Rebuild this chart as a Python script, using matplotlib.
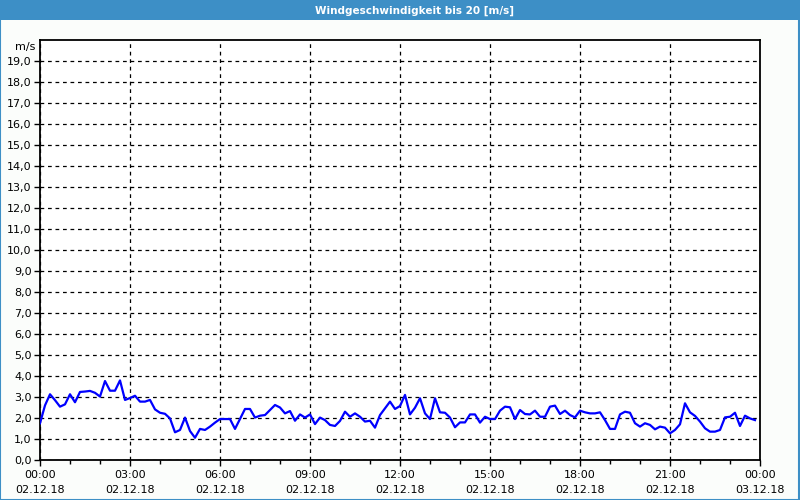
import numpy as np
import matplotlib
matplotlib.use('Agg')
import matplotlib.pyplot as plt
from matplotlib.patches import Rectangle
from matplotlib.ticker import MultipleLocator, FixedLocator

# Windgeschwindigkeit, alle 10 Minuten ab 02.12.18 00:00 (m/s)
wind = [1.75, 2.6, 3.13, 2.85, 2.54, 2.65, 3.13, 2.75, 3.24, 3.26,
        3.29, 3.2, 3.02, 3.76, 3.3, 3.3, 3.79, 2.86, 2.95, 3.06,
        2.78, 2.78, 2.86, 2.41, 2.25, 2.2, 1.98, 1.32, 1.43, 2.02,
        1.38, 1.06, 1.48, 1.43, 1.59, 1.78, 1.95, 1.95, 1.95, 1.48,
        1.95, 2.43, 2.43, 2.02, 2.11, 2.14, 2.38, 2.62, 2.5, 2.22,
        2.33, 1.87, 2.17, 2.02, 2.17, 1.71, 2.02, 1.9, 1.67, 1.62,
        1.86, 2.3, 2.06, 2.22, 2.06, 1.83, 1.87, 1.54, 2.14, 2.46,
        2.78, 2.43, 2.57, 3.1, 2.17, 2.49, 2.94, 2.22, 1.95, 2.94,
        2.27, 2.25, 2.02, 1.56, 1.79, 1.79, 2.17, 2.17, 1.78, 2.06,
        1.95, 1.95, 2.35, 2.54, 2.51, 1.95, 2.38, 2.19, 2.17, 2.35,
        2.06, 2.06, 2.54, 2.59, 2.19, 2.35, 2.14, 2.03, 2.35, 2.27,
        2.22, 2.22, 2.27, 1.9, 1.48, 1.48, 2.17, 2.3, 2.25, 1.75,
        1.59, 1.75, 1.67, 1.46, 1.59, 1.54, 1.27, 1.43, 1.7, 2.7,
        2.27, 2.1, 1.83, 1.51, 1.35, 1.35, 1.43, 2.03, 2.06, 2.25,
        1.62, 2.11, 1.98, 1.9]
stunden = np.arange(len(wind)) * 10 / 60.0  # Zeit in Stunden

zeit_labels = ['00:00', '03:00', '06:00', '09:00', '12:00', '15:00', '18:00', '21:00', '00:00']
datum_labels = ['02.12.18'] * 8 + ['03.12.18']
y_labels = ['%d,0' % i for i in range(20)]

titel = 'Windgeschwindigkeit bis 20 [m/s]'
blau = '#3d8fc6'

fig = plt.figure(figsize=(8, 5), dpi=100)
fig.patch.set_facecolor('#fbfdfb')

# Titelleiste
fig.patches.append(Rectangle((0, 0.96), 1, 0.04, transform=fig.transFigure,
                             facecolor=blau, edgecolor='none', zorder=0))
fig.patches.append(Rectangle((0.0006, 0.001), 0.9982, 0.998, transform=fig.transFigure,
                             facecolor='none', edgecolor=blau, linewidth=1.5, zorder=1))
fig.text(0.518, 0.979, titel, color='white', fontsize=7.5, fontweight='bold',
         ha='center', va='center')

ax = fig.add_axes([0.05, 0.08, 0.90, 0.84])
ax.set_facecolor('white')
ax.plot(stunden, wind, color='#0000ff', linewidth=1.6, zorder=3)

ax.set_xlim(0, 24)
ax.set_ylim(0, 20)

ax.xaxis.set_major_locator(FixedLocator(np.arange(0, 25, 3)))
ax.xaxis.set_minor_locator(MultipleLocator(1))
ax.set_xticklabels([z + '\n' + d for z, d in zip(zeit_labels, datum_labels)],
                   fontsize=8, linespacing=1.6)
ax.set_yticks(range(20))
ax.set_yticklabels(y_labels, fontsize=8)

ax.tick_params(axis='both', which='major', length=4, width=1, color='black', pad=2)
ax.tick_params(axis='x', which='minor', length=3, width=1)
ax.tick_params(axis='x', which='major', pad=3)

ax.grid(True, which='major', axis='both', color='black', linestyle=(0, (3, 3)),
        linewidth=0.9)
for s in ax.spines.values():
    s.set_linewidth(1.3)
    s.set_color('black')

ax.text(-0.006, 19.67 / 20, 'm/s', transform=ax.transAxes, ha='right',
        va='center', fontsize=8)

fig.savefig('out.png', dpi=100, facecolor=fig.get_facecolor())
